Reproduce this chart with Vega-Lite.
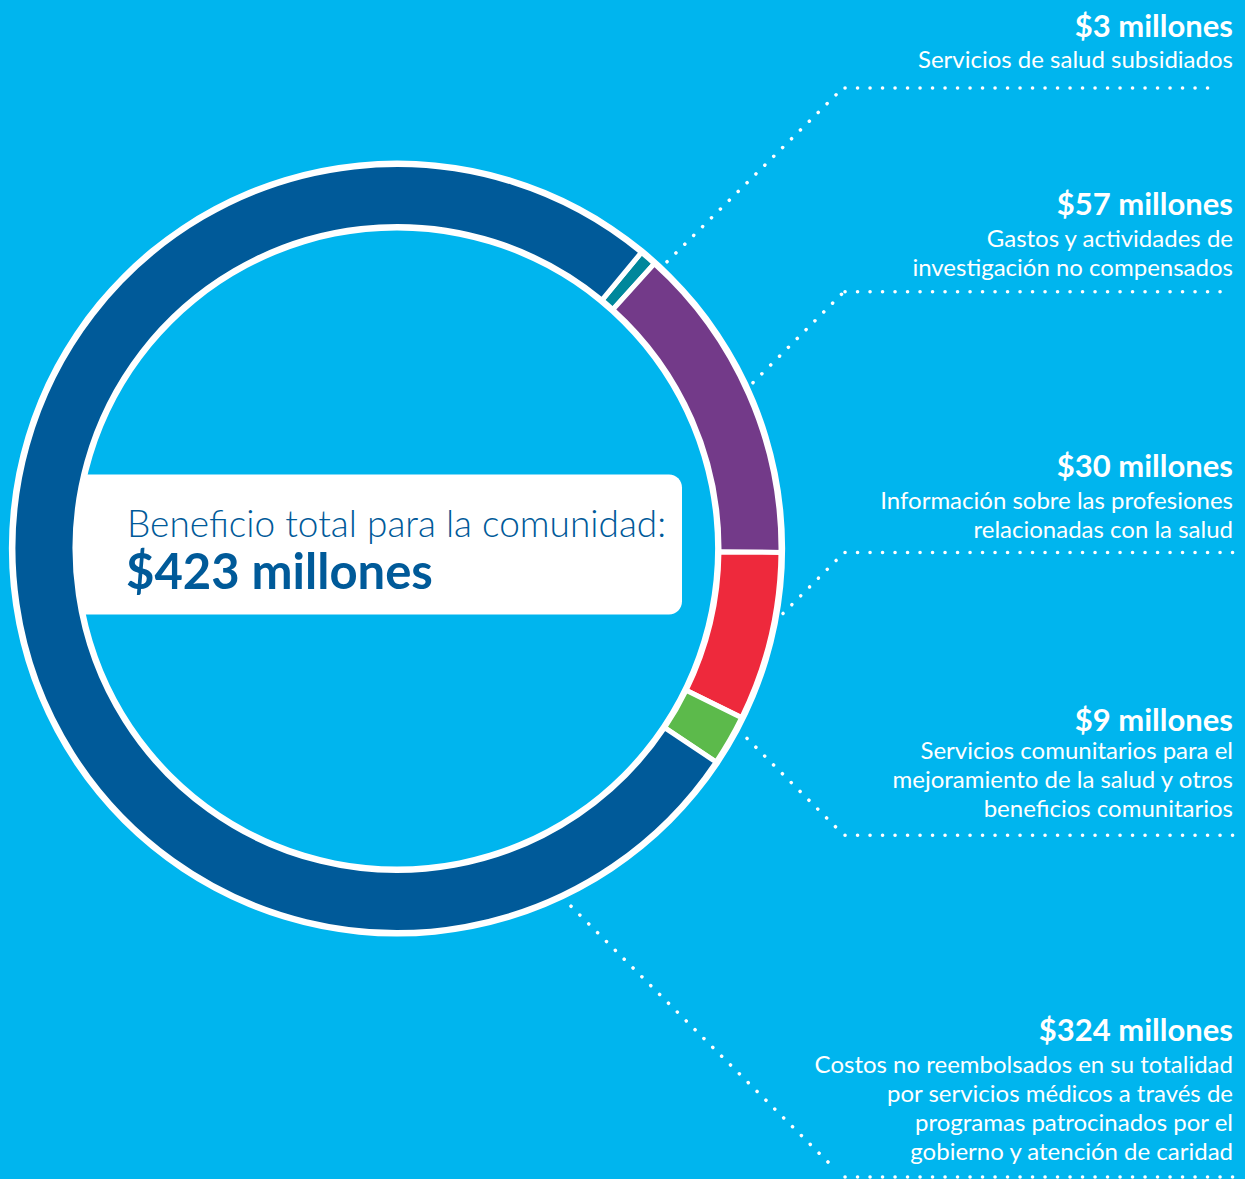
{
  "$schema": "https://vega.github.io/schema/vega-lite/v6.json",
  "width": 1245,
  "height": 1179,
  "autosize": {"type": "fit", "contains": "padding"},
  "padding": 0,
  "background": "#00B5EE",
  "datasets": {
    "benefits": [
      {"category": "Servicios de salud subsidiados", "amount": 3, "order": 1, "label": "$3 millones", "desc": "Servicios de salud subsidiados"},
      {"category": "Gastos y actividades de investigación no compensados", "amount": 57, "order": 2, "label": "$57 millones", "desc": "Gastos y actividades de\ninvestigación no compensados"},
      {"category": "Información sobre las profesiones relacionadas con la salud", "amount": 30, "order": 3, "label": "$30 millones", "desc": "Información sobre las profesiones\nrelacionadas con la salud"},
      {"category": "Servicios comunitarios para el mejoramiento de la salud y otros beneficios comunitarios", "amount": 9, "order": 4, "label": "$9 millones", "desc": "Servicios comunitarios para el\nmejoramiento de la salud y otros\nbeneficios comunitarios"},
      {"category": "Costos no reembolsados en su totalidad por servicios médicos a través de programas patrocinados por el gobierno y atención de caridad", "amount": 324, "order": 5, "label": "$324 millones", "desc": "Costos no reembolsados en su totalidad\npor servicios médicos a través de\nprogramas patrocinados por el\ngobierno y atención de caridad"}
    ],
    "total": [
      {"title": "Beneficio total para la comunidad:", "amount": 423, "label": "$423 millones"}
    ]
  },
  "data": {"name": "benefits"},
  "layer": [
    {
      "data": {"name": "total"},
      "mark": {"type": "rect", "color": "white", "cornerRadius": 13},
      "encoding": {
        "x": {"datum": 60, "type": "quantitative", "scale": {"domain": [0, 1245], "nice": false, "zero": false}},
        "x2": {"datum": 682},
        "y": {"datum": 475, "type": "quantitative", "scale": {"domain": [0, 1179], "nice": false, "zero": false, "reverse": true}},
        "y2": {"datum": 615}
      }
    },
    {
      "data": {"name": "total"},
      "mark": {"type": "arc", "color": "white", "outerRadius": 388, "innerRadius": 318, "theta": 0, "theta2": 6.2832},
      "encoding": {
        "x": {"datum": 397, "type": "quantitative"},
        "y": {"datum": 549, "type": "quantitative"}
      }
    },
    {
      "mark": {"type": "arc", "outerRadius": 384, "innerRadius": 322, "stroke": "white", "strokeWidth": 5},
      "encoding": {
        "x": {"datum": 397, "type": "quantitative"},
        "y": {"datum": 549, "type": "quantitative"},
        "theta": {"field": "amount", "type": "quantitative", "stack": true, "scale": {"range": [0.6900, 6.9732]}},
        "order": {"field": "order", "type": "quantitative"},
        "color": {
          "field": "category",
          "type": "nominal",
          "scale": {
            "domain": [
              "Servicios de salud subsidiados",
              "Gastos y actividades de investigación no compensados",
              "Información sobre las profesiones relacionadas con la salud",
              "Servicios comunitarios para el mejoramiento de la salud y otros beneficios comunitarios",
              "Costos no reembolsados en su totalidad por servicios médicos a través de programas patrocinados por el gobierno y atención de caridad"
            ],
            "range": ["#00879B", "#733A89", "#EE293C", "#5CBA4B", "#005A99"]
          },
          "legend": null
        }
      }
    },
    {
      "data": {"name": "total"},
      "mark": {"type": "text", "font": "Lato", "fontSize": 37, "fontWeight": 300, "color": "#005A99", "align": "left", "baseline": "alphabetic"},
      "encoding": {
        "x": {"datum": 127, "type": "quantitative"},
        "y": {"datum": 537, "type": "quantitative"},
        "text": {"field": "title"}
      }
    },
    {
      "data": {"name": "total"},
      "mark": {"type": "text", "font": "Lato", "fontSize": 49, "fontWeight": "bold", "color": "#005A99", "align": "left", "baseline": "alphabetic"},
      "encoding": {
        "x": {"datum": 126, "type": "quantitative"},
        "y": {"datum": 589, "type": "quantitative"},
        "text": {"field": "label"}
      }
    },
    {
      "transform": [{"filter": "datum.order == 1"}],
      "layer": [
        {"mark": {"type": "text", "style": "amt"}, "encoding": {"x": {"datum": 1233, "type": "quantitative"}, "y": {"datum": 37, "type": "quantitative"}, "text": {"field": "label"}}},
        {"mark": {"type": "text", "style": "desc"}, "encoding": {"x": {"datum": 1233, "type": "quantitative"}, "y": {"datum": 68, "type": "quantitative"}, "text": {"field": "desc"}}},
        {"mark": {"type": "rule", "style": "dots"}, "encoding": {"x": {"datum": 667, "type": "quantitative"}, "y": {"datum": 262, "type": "quantitative"}, "x2": {"datum": 843}, "y2": {"datum": 88}}},
        {"mark": {"type": "rule", "style": "dots"}, "encoding": {"x": {"datum": 845, "type": "quantitative"}, "y": {"datum": 88, "type": "quantitative"}, "x2": {"datum": 1218}, "y2": {"datum": 88}}}
      ]
    },
    {
      "transform": [{"filter": "datum.order == 2"}],
      "layer": [
        {"mark": {"type": "text", "style": "amt"}, "encoding": {"x": {"datum": 1233, "type": "quantitative"}, "y": {"datum": 215, "type": "quantitative"}, "text": {"field": "label"}}},
        {"mark": {"type": "text", "style": "desc"}, "encoding": {"x": {"datum": 1233, "type": "quantitative"}, "y": {"datum": 247, "type": "quantitative"}, "text": {"field": "desc"}}},
        {"mark": {"type": "rule", "style": "dots"}, "encoding": {"x": {"datum": 753, "type": "quantitative"}, "y": {"datum": 383, "type": "quantitative"}, "x2": {"datum": 843}, "y2": {"datum": 293}}},
        {"mark": {"type": "rule", "style": "dots"}, "encoding": {"x": {"datum": 845, "type": "quantitative"}, "y": {"datum": 292, "type": "quantitative"}, "x2": {"datum": 1229}, "y2": {"datum": 292}}}
      ]
    },
    {
      "transform": [{"filter": "datum.order == 3"}],
      "layer": [
        {"mark": {"type": "text", "style": "amt"}, "encoding": {"x": {"datum": 1233, "type": "quantitative"}, "y": {"datum": 477, "type": "quantitative"}, "text": {"field": "label"}}},
        {"mark": {"type": "text", "style": "desc"}, "encoding": {"x": {"datum": 1233, "type": "quantitative"}, "y": {"datum": 509, "type": "quantitative"}, "text": {"field": "desc"}}},
        {"mark": {"type": "rule", "style": "dots"}, "encoding": {"x": {"datum": 783, "type": "quantitative"}, "y": {"datum": 614, "type": "quantitative"}, "x2": {"datum": 843}, "y2": {"datum": 554}}},
        {"mark": {"type": "rule", "style": "dots"}, "encoding": {"x": {"datum": 845, "type": "quantitative"}, "y": {"datum": 553, "type": "quantitative"}, "x2": {"datum": 1234}, "y2": {"datum": 553}}}
      ]
    },
    {
      "transform": [{"filter": "datum.order == 4"}],
      "layer": [
        {"mark": {"type": "text", "style": "amt"}, "encoding": {"x": {"datum": 1233, "type": "quantitative"}, "y": {"datum": 732, "type": "quantitative"}, "text": {"field": "label"}}},
        {"mark": {"type": "text", "style": "desc"}, "encoding": {"x": {"datum": 1233, "type": "quantitative"}, "y": {"datum": 760, "type": "quantitative"}, "text": {"field": "desc"}}},
        {"mark": {"type": "rule", "style": "dots"}, "encoding": {"x": {"datum": 747, "type": "quantitative"}, "y": {"datum": 739, "type": "quantitative"}, "x2": {"datum": 842}, "y2": {"datum": 834}}},
        {"mark": {"type": "rule", "style": "dots"}, "encoding": {"x": {"datum": 845, "type": "quantitative"}, "y": {"datum": 836, "type": "quantitative"}, "x2": {"datum": 1234}, "y2": {"datum": 836}}}
      ]
    },
    {
      "transform": [{"filter": "datum.order == 5"}],
      "layer": [
        {"mark": {"type": "text", "style": "amt"}, "encoding": {"x": {"datum": 1233, "type": "quantitative"}, "y": {"datum": 1042, "type": "quantitative"}, "text": {"field": "label"}}},
        {"mark": {"type": "text", "style": "desc"}, "encoding": {"x": {"datum": 1233, "type": "quantitative"}, "y": {"datum": 1074, "type": "quantitative"}, "text": {"field": "desc"}}},
        {"mark": {"type": "rule", "style": "dots"}, "encoding": {"x": {"datum": 571, "type": "quantitative"}, "y": {"datum": 907, "type": "quantitative"}, "x2": {"datum": 833}, "y2": {"datum": 1168}}},
        {"mark": {"type": "rule", "style": "dots"}, "encoding": {"x": {"datum": 845, "type": "quantitative"}, "y": {"datum": 1178, "type": "quantitative"}, "x2": {"datum": 1234}, "y2": {"datum": 1178}}}
      ]
    }
  ],
  "config": {
    "axis": {"disable": true},
    "view": {"stroke": null},
    "style": {
      "amt": {"font": "Lato", "fontSize": 31, "fontWeight": "bold", "color": "white", "fill": "white", "align": "right", "baseline": "alphabetic"},
      "desc": {"font": "Lato", "fontSize": 24, "color": "white", "fill": "white", "align": "right", "baseline": "alphabetic", "lineHeight": 29, "lineBreak": "\n"},
      "dots": {"color": "white", "stroke": "white", "strokeWidth": 3.5, "strokeDash": [0.1, 12.4], "strokeCap": "round"}
    }
  }
}
